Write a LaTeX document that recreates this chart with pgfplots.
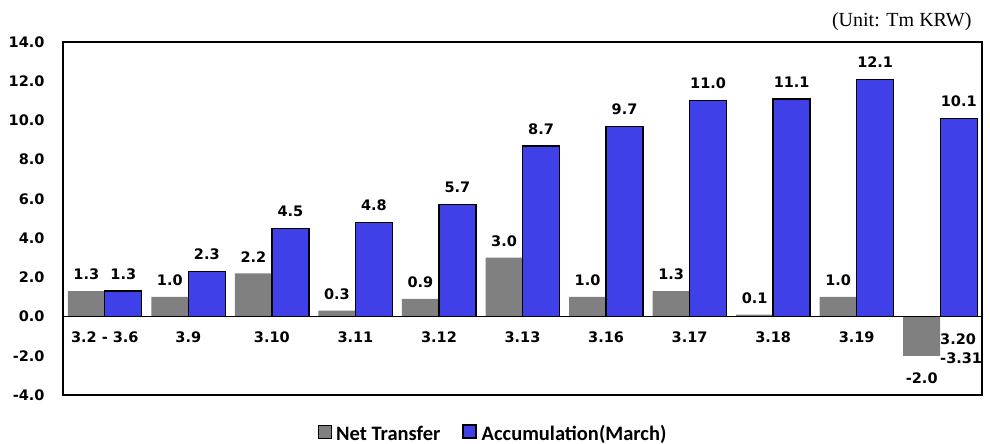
\documentclass[border=0pt]{standalone}
\usepackage{pgfplots}
\pgfplotsset{compat=1.18}
\usepackage{fontspec}
\setmainfont{DejaVu Sans}
\newfontfamily\unitfont{Liberation Serif}
\newfontfamily\legfont{Carlito}
\definecolor{netgray}{RGB}{128,128,128}
\definecolor{accblue}{RGB}{64,64,232}

\begin{document}
\begin{tikzpicture}
\useasboundingbox (-63pt,-49pt) rectangle (927pt,395pt);
\begin{axis}[
  at={(0pt,0pt)}, anchor=south west, scale only axis,
  width=919pt, height=353pt,
  ybar=0pt, bar width=37pt,
  xmin=-0.5, xmax=10.5, ymin=-4, ymax=14,
  xtick={0,...,10},
  xticklabels={3.2 - 3.6, 3.9, 3.10, 3.11, 3.12, 3.13, 3.16, 3.17, 3.18, 3.19,
    {\makebox[0pt][l]{\begin{tabular}[t]{@{}l@{}}3.20\\-3.31\end{tabular}}}},
  ytick={-4,-2,...,14},
  major tick length=0pt,
  axis line style={line width=1.2pt, black},
  /pgf/number format/assume math mode=true,
  yticklabel={\pgfmathprintnumber[fixed,fixed zerofill,precision=1]{\tick}},
  yticklabel style={font=\bfseries\fontsize{14.5}{17}\selectfont, xshift=-15pt},
  xticklabel style={font=\bfseries\fontsize{14.5}{19}\selectfont, yshift=67pt},
  nodes near coords={\pgfmathprintnumber[fixed,fixed zerofill,precision=1,assume math mode=true]{\pgfplotspointmeta}},
  visualization depends on={rawy \as \rawy},
  every node near coord/.append style={font=\bfseries\fontsize{14.5}{17}\selectfont, inner ysep=11pt, yshift={-6*(\rawy<0)}},
  legend style={at={(0.468,-0.109)}, anchor=center, draw=none, fill=none,
    legend columns=2, font=\legfont\bfseries\fontsize{20.5}{23}\selectfont,
    inner sep=0pt, nodes={inner xsep=2pt, inner ysep=0pt, text height=10.5pt, text depth=2.5pt},
    /tikz/every odd column/.append style={column sep=3pt},
    /tikz/every even column/.append style={column sep=20pt}},
  legend image code/.code={\draw[#1] (0pt,-2pt) rectangle (13pt,11pt);},
  clip=false,
]
\addplot[fill=netgray, draw=none] coordinates {
  (0,1.3) (1,1.0) (2,2.2) (3,0.3) (4,0.9) (5,3.0) (6,1.0) (7,1.3) (8,0.1) (9,1.0) (10,-2.0)};
\addplot[fill=accblue, draw=black, line width=1.3pt] coordinates {
  (0,1.3) (1,2.3) (2,4.5) (3,4.8) (4,5.7) (5,8.7) (6,9.7) (7,11.0) (8,11.1) (9,12.1) (10,10.1)};
\legend{Net Transfer, Accumulation(March)}
\draw[black, line width=1.2pt] (axis cs:-0.5,0) -- (axis cs:10.5,0);
\node[anchor=base east, font=\unitfont\fontsize{20}{23}\selectfont] at ([xshift=-7pt,yshift=15pt]rel axis cs:1,1) {(Unit: Tm KRW)};
\end{axis}
\end{tikzpicture}
\end{document}
